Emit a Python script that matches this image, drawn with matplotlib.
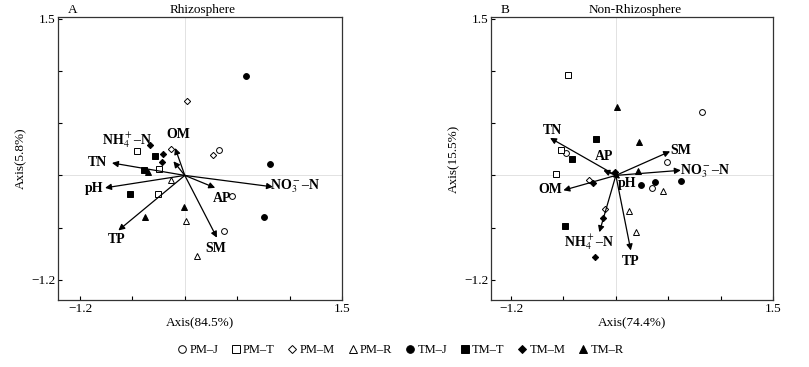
import numpy as np
import matplotlib
matplotlib.use("Agg")
import matplotlib.pyplot as plt
from matplotlib.lines import Line2D

plt.rcParams["font.family"] = ["Liberation Serif", "DejaVu Serif"]
plt.rcParams["mathtext.fontset"] = "stix"

# group names and marker styles (open = PM, filled = TM)
groups = ["PM–J", "PM–T", "PM–M", "PM–R", "TM–J", "TM–T", "TM–M", "TM–R"]
markers = ["o", "s", "D", "^", "o", "s", "D", "^"]
filled = [False, False, False, False, True, True, True, True]

# axis ticks
tick_vals = [-1.2, -0.66, -0.12, 0.42, 0.96, 1.5]
tick_labels = ["−1.2", "", "", "", "", "1.5"]
origin = -0.12

# --- Panel A: Rhizosphere ---
a_pts = {
    "PM–J": ([0.234, 0.366, 0.289], [0.140, -0.336, -0.700]),
    "PM–T": ([-0.609, -0.382, -0.398], [0.129, -0.053, -0.311]),
    "PM–M": ([-0.096, 0.173, -0.258], [0.646, 0.092, 0.157]),
    "PM–R": ([-0.264, -0.109, 0.007], [-0.170, -0.594, -0.955]),
    "TM–J": ([0.510, 0.754, 0.699], [0.914, -0.005, -0.553]),
    "TM–T": ([-0.423, -0.684, -0.540], [0.078, -0.308, -0.060]),
    "TM–M": ([-0.478, -0.340, -0.354], [0.198, 0.105, 0.020]),
    "TM–R": ([-0.498, -0.124, -0.529], [-0.086, -0.445, -0.553]),
}
a_vars = ["TN", r"NH$_4^+$–N", "OM", "pH", "TP", "AP", "SM", r"NO$_3^-$–N"]
a_head_x = [-0.871, -0.237, -0.220, -0.942, -0.805, 0.193, 0.211, 0.789]
a_head_y = [0.009, 0.026, 0.164, -0.249, -0.690, -0.249, -0.765, -0.239]
a_lab_x = [-1.025, -0.715, -0.189, -1.056, -0.818, 0.265, 0.204, 1.010]
a_lab_y = [0.012, 0.250, 0.302, -0.256, -0.783, -0.359, -0.876, -0.236]

# --- Panel B: Non-Rhizosphere ---
b_pts = {
    "PM–J": ([0.766, -0.636, 0.405, 0.257], [0.536, 0.113, 0.020, -0.253]),
    "PM–T": ([-0.612, -0.688, -0.739], [0.918, 0.140, -0.108]),
    "PM–M": ([-0.393, -0.234], [-0.170, -0.463]),
    "PM–R": ([0.364, 0.020, 0.089], [-0.277, -0.491, -0.703]),
    "TM–J": ([0.140, 0.288, 0.549], [-0.222, -0.187, -0.174]),
    "TM–T": ([-0.327, -0.574, -0.646], [0.257, 0.054, -0.646]),
    "TM–M": ([-0.128, -0.352, -0.248, -0.337], [-0.084, -0.197, -0.566, -0.962]),
    "TM–R": ([-0.110, 0.120, 0.112], [0.584, 0.222, -0.077]),
}
b_vars = ["TN", "AP", "SM", r"NO$_3^-$–N", "OM", "pH", r"NH$_4^+$–N", "TP"]
b_head_x = [-0.798, -0.249, 0.439, 0.549, -0.661, -0.076, -0.290, 0.034]
b_head_y = [0.268, -0.067, 0.129, -0.067, -0.274, -0.154, -0.708, -0.897]
b_lab_x = [-0.777, -0.241, 0.553, 0.800, -0.798, -0.004, -0.396, 0.037]
b_lab_y = [0.343, 0.074, 0.136, -0.081, -0.267, -0.205, -0.814, -1.010]


def draw_panel(ax, pts, vars_, hx, hy, lx, ly, letter, title, xlab, ylab, xmin):
    ax.axhline(origin, color="#dddddd", lw=0.6, zorder=0)
    ax.axvline(origin, color="#dddddd", lw=0.6, zorder=0)
    for g, m, f in zip(groups, markers, filled):
        xs, ys = pts[g]
        ms = 4.2 if m != "D" else 3.2
        ax.plot(xs, ys, ls="none", marker=m, ms=ms, mec="black", mew=0.7,
                mfc="black" if f else "white", zorder=3)
    for v, x, y, tx, ty in zip(vars_, hx, hy, lx, ly):
        ax.annotate("", xy=(x, y), xytext=(origin, origin),
                    arrowprops=dict(arrowstyle="-|>", color="black", lw=0.9,
                                    mutation_scale=9, shrinkA=0, shrinkB=0),
                    zorder=4)
        ax.text(tx, ty, v, ha="center", va="center", fontsize=10,
                fontweight="bold", zorder=5)
    ax.set_xlim(xmin, 1.5)
    ax.set_ylim(-1.41, 1.52)
    ax.set_xticks(tick_vals)
    ax.set_xticklabels(tick_labels, fontsize=9.5)
    ax.set_yticks(tick_vals)
    ax.set_yticklabels(tick_labels, fontsize=9.5)
    ax.tick_params(direction="in", length=3, width=0.8, pad=2)
    for s in ax.spines.values():
        s.set_linewidth(0.9)
        s.set_color("#333333")
    ax.set_xlabel(xlab, fontsize=9.5, labelpad=2)
    ax.set_ylabel(ylab, fontsize=9.5, labelpad=3)
    ax.text(0.05, 1.004, letter, transform=ax.transAxes, ha="center",
            va="bottom", fontsize=9.5)
    ax.text(0.51, 1.004, title, transform=ax.transAxes, ha="center",
            va="bottom", fontsize=9.5)


fig = plt.figure(figsize=(8.09, 3.67), dpi=100)
ax1 = fig.add_axes([0.0717, 0.1826, 0.351, 0.771])
ax2 = fig.add_axes([0.607, 0.1826, 0.3486, 0.771])

draw_panel(ax1, a_pts, a_vars, a_head_x, a_head_y, a_lab_x, a_lab_y,
           "A", "Rhizosphere", "Axis(84.5%)", "Axis(5.8%)", -1.427)
draw_panel(ax2, b_pts, b_vars, b_head_x, b_head_y, b_lab_x, b_lab_y,
           "B", "Non-Rhizosphere", "Axis(74.4%)", "Axis(15.5%)", -1.406)

handles = []
for g, m, f in zip(groups, markers, filled):
    handles.append(Line2D([], [], ls="none", marker=m,
                          ms=5.5 if m != "D" else 4.5, mec="black",
                          mew=0.7, mfc="black" if f else "white", label=g))
fig.legend(handles=handles, loc="center", bbox_to_anchor=(0.494, 0.046),
           ncol=8, frameon=False, fontsize=9, handletextpad=0.1,
           columnspacing=0.9, handlelength=1.0)

fig.savefig("out.png", dpi=100)
